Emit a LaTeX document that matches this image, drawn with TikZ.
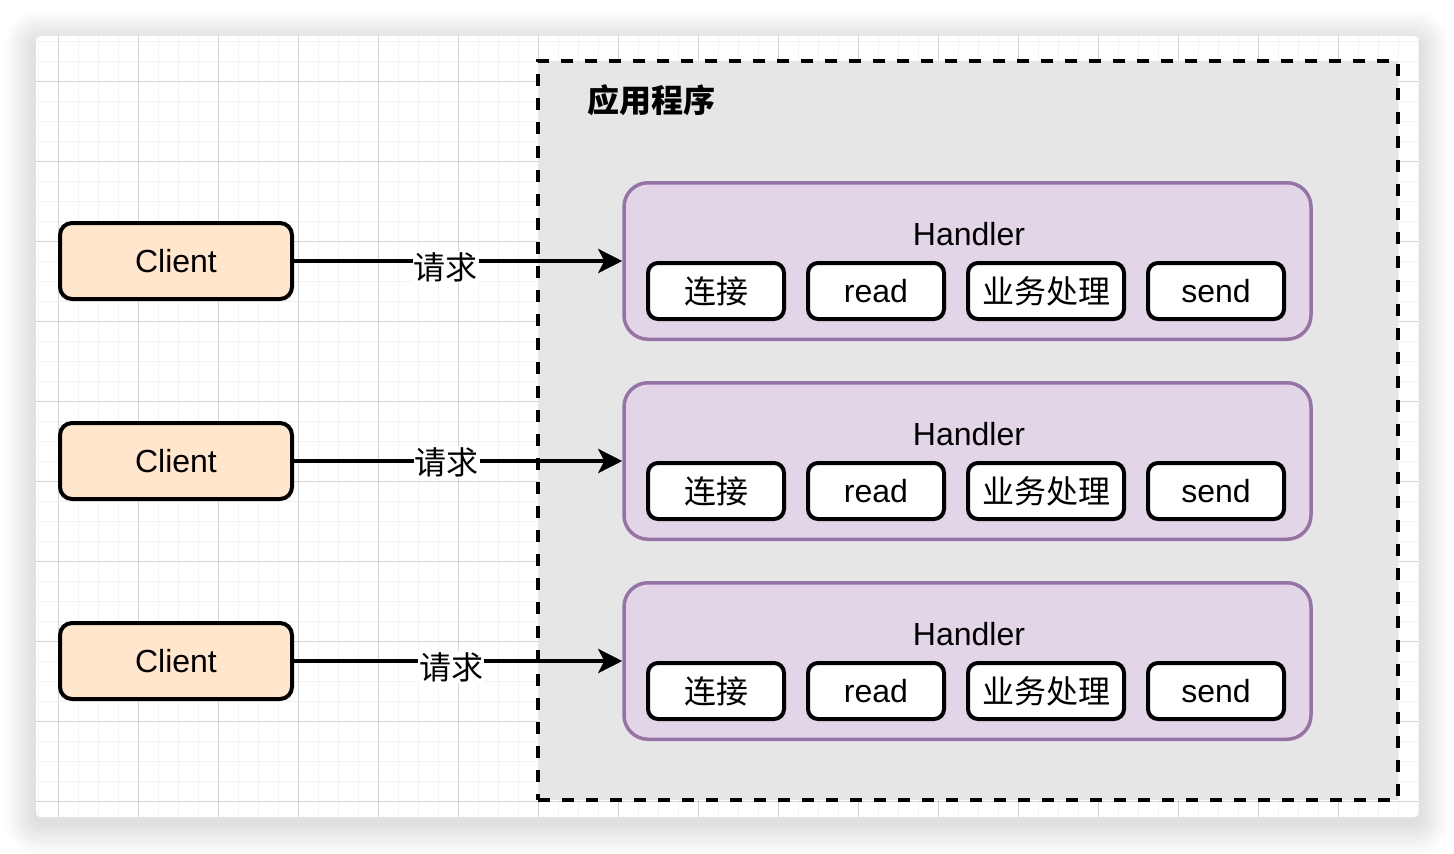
\documentclass[tikz,border=0pt]{standalone}
\usepackage{fontspec}
\setmainfont{Liberation Sans}
\newfontfamily\cjk{Noto Sans CJK SC}
\usetikzlibrary{arrows.meta}
\definecolor{clientfill}{HTML}{FFE6CC}
\definecolor{handlerfill}{HTML}{E1D5E7}
\definecolor{handlerline}{HTML}{9673A6}
\definecolor{appfill}{HTML}{E6E6E6}
\definecolor{minorgrid}{HTML}{F2F2F2}
\definecolor{majorgrid}{HTML}{D4D4D4}
\tikzset{
  txt/.style={font=\fontsize{32}{38}\selectfont},
  clientbox/.style={draw=black, line width=4pt, fill=clientfill, rounded corners=12pt,
    minimum width=232pt, minimum height=76pt, txt, inner sep=0pt},
  handlerbox/.style={draw=handlerline, line width=3.5pt, fill=handlerfill, rounded corners=24pt,
    minimum width=687pt, minimum height=156.5pt, inner sep=0pt},
  stepbox/.style={draw=black, line width=4pt, fill=white, rounded corners=10pt,
    minimum width=136pt, minimum height=56pt, txt, inner sep=0pt},
  widebox/.style={stepbox, minimum width=156pt},
  req/.style={line width=4pt, -{Stealth[length=24pt, width=24pt, inset=6pt]}},
  reqlabel/.style={fill=white, inner sep=1pt, txt, font=\cjk\fontsize{32}{38}\selectfont},
}
\begin{document}
\begin{tikzpicture}[x=1pt, y=-1pt]
\useasboundingbox (0,0) rectangle (1454,854);
% shadow
\foreach \i in {1,...,32} {
  \fill[black, opacity=0.0055, rounded corners=4pt+1pt*\i]
    (36-\i, 42-\i) rectangle (1418+\i, 823+\i);
}
% canvas
\fill[white, rounded corners=4pt] (36,36) rectangle (1418,817);
\foreach \x in {38,58,...,1418} \draw[minorgrid, line width=1pt] (\x,36) -- (\x,817);
\foreach \y in {41,61,...,801} \draw[minorgrid, line width=1pt] (36,\y) -- (1418,\y);
\foreach \x in {58,138,...,1378} \draw[majorgrid, line width=1pt] (\x,36) -- (\x,817);
\foreach \y in {81,161,...,801} \draw[majorgrid, line width=1pt] (36,\y) -- (1418,\y);
% application container
\node[draw=black, fill=appfill, line width=4pt, dash pattern=on 12pt off 12pt,
  minimum width=860pt, minimum height=739pt, inner sep=0pt] (app) at (968,430.5) {};
\node[anchor=west, font=\cjk\bfseries\fontsize{32}{38}\selectfont, inner sep=0pt] (title) at (587,100) {应用程序};
% clients and handlers
\foreach \n/\y in {1/261, 2/461, 3/661} {
  \node[clientbox] (c\n) at (176,\y) {Client};
  \node[handlerbox] (h\n) at (967.5,\y) {};
  \node[txt, inner sep=0pt] (hl\n) at (969,\y-27) {Handler};
  \node[stepbox] (s\n a) at (716,\y+30) {\cjk 连接};
  \node[stepbox] (s\n b) at (876,\y+30) {read};
  \node[widebox] (s\n c) at (1046,\y+30) {\cjk 业务处理};
  \node[stepbox] (s\n d) at (1216,\y+30) {send};
}
\draw[req] (c1.east) -- node[reqlabel, pos=0.463, yshift=-6pt] (r1) {请求} (h1.west);
\draw[req] (c2.east) -- node[reqlabel, pos=0.466, yshift=-1pt] (r2) {请求} (h2.west);
\draw[req] (c3.east) -- node[reqlabel, pos=0.479, yshift=-6pt] (r3) {请求} (h3.west);
\end{tikzpicture}
\end{document}
